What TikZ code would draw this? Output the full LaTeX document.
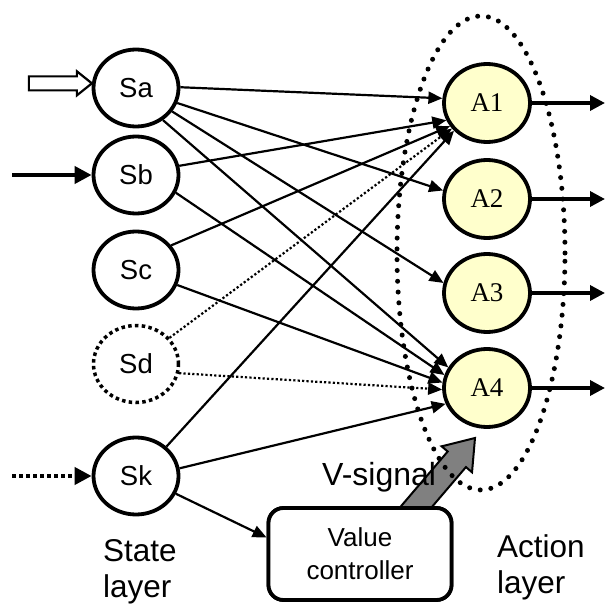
\documentclass[tikz,border=0pt]{standalone}
\usepackage{fontspec}
\setmainfont{Liberation Sans}
\newfontfamily\serifA{Liberation Serif}
\usetikzlibrary{shapes.geometric,arrows.meta,calc}
\definecolor{ayellow}{RGB}{255,255,204}
\definecolor{vgray}{RGB}{128,128,128}
\begin{document}
\begin{tikzpicture}[x=1pt,y=-1pt,
  snode/.style={ellipse, draw, line width=3.8pt, minimum width=85pt, minimum height=77pt, inner sep=0pt, fill=white, font=\fontsize{27.5}{30}\selectfont},
  anode/.style={ellipse, draw, line width=3.8pt, minimum width=86pt, minimum height=78pt, inner sep=0pt, fill=ayellow, font=\serifA\fontsize{27}{30}\selectfont},
  conn/.style={line width=2.2pt, -{Triangle[length=14pt,width=12pt]}},
  dotconn/.style={conn, dash pattern=on 2.2pt off 2.2pt},
  outarrow/.style={line width=3.5pt, -{Triangle[length=15pt,width=15pt]}},
  inarrow/.style={line width=4pt, -{Triangle[length=17pt,width=17pt]}},
  lbl/.style={font=\fontsize{31.5}{36}\selectfont, align=left, inner sep=0pt}]
\useasboundingbox (0,0) rectangle (606,605);
% state nodes
\node[snode] (Sa) at (136,88) {Sa};
\node[snode] (Sb) at (136,175) {Sb};
\node[snode] (Sc) at (136,270) {Sc};
\node[snode, line width=3.5pt, dash pattern=on 3.5pt off 3.3pt] (Sd) at (136,364) {Sd};
\node[snode] (Sk) at (136,476) {Sk};
% action nodes
\node[anode] (A1) at (487,103) {A1};
\node[anode] (A2) at (487,199) {A2};
\node[anode] (A3) at (487,293) {A3};
\node[anode] (A4) at (487,388) {A4};
% value controller
\node[draw, line width=3.8pt, rounded corners=15pt, minimum width=183pt, minimum height=92pt, fill=white, align=center, font=\fontsize{26}{33}\selectfont] (VC) at (360,554) {Value\\controller};
% connections
\draw[conn] (Sa.1) -- (A1.174);
\draw[conn] (Sa.-20) -- (A2.169);
\draw[conn] (Sa.-33) -- (A3.167);
\draw[conn] (Sa.-50) -- (A4.152);
\draw[conn] (Sb.12) -- (A1.203);
\draw[conn] (Sb.-24) -- (A4.163);
\draw[conn] (Sc.35) -- (A1.212);
\draw[conn] (Sc.-20) -- (A4.173);
\draw[dotconn] (Sd.38) -- (A1.216);
\draw[dotconn] (Sd.-12) -- (A4.182);
\draw[conn] (Sk.44) -- (A1.220);
\draw[conn] (Sk.10) -- (A4.201);
\draw[conn] (Sk.-24) -- (VC.170);
% outputs
\coordinate (o1) at (605,103);
\coordinate (o2) at (605,199);
\coordinate (o3) at (605,293);
\coordinate (o4) at (605,388);
\draw[outarrow] (A1.east) -- (o1);
\draw[outarrow] (A2.east) -- (o2);
\draw[outarrow] (A3.east) -- (o3);
\draw[outarrow] (A4.east) -- (o4);
% inputs
\coordinate (sat) at (Sa.174);
\draw[line width=2.2pt, fill=white] ($(sat)+(-63,-7)$) -- ($(sat)+(-15,-7)$) -- ($(sat)+(-15,-12)$) -- (sat) -- ($(sat)+(-15,12)$) -- ($(sat)+(-15,7)$) -- ($(sat)+(-63,7)$) -- cycle;
\coordinate (inb) at (12,175);
\draw[inarrow] (inb) -- (Sb.west);
\coordinate (ink) at (12,476);
\draw[inarrow, dash pattern=on 4pt off 3pt] (ink) -- (Sk.west);
% V-signal arrow
\coordinate (vs) at (405,520);
\coordinate (vt) at (475,438);
\coordinate (hb) at ($(vt)!28pt!(vs)$);
\draw[line width=2pt, fill=vgray, line join=miter] ($(vs)!12pt!90:(vt)$) -- ($(hb)!12pt!90:(vt)$) -- ($(hb)!20pt!90:(vt)$) -- (vt) -- ($(hb)!20pt!-90:(vt)$) -- ($(hb)!12pt!-90:(vt)$) -- ($(vs)!12pt!-90:(vt)$) -- cycle;
% redraw box over arrow base
\node[draw, line width=3.8pt, rounded corners=15pt, minimum width=183pt, minimum height=92pt, fill=white, align=center, font=\fontsize{26}{33}\selectfont] at (VC) {Value\\controller};
% action layer boundary
\draw[line width=5pt, dash pattern=on 0pt off 10.8pt, line cap=round] (481,253) ellipse [x radius=84pt, y radius=237pt];
% labels
\node[font=\fontsize{32}{36}\selectfont, anchor=base west, inner sep=0pt] (vl) at (322,485) {V-signal};
\node[lbl, anchor=base west] (sl) at (103,597) {State\\layer};
\node[lbl, anchor=base west] (al) at (497,593) {Action\\layer};
\end{tikzpicture}
\end{document}
